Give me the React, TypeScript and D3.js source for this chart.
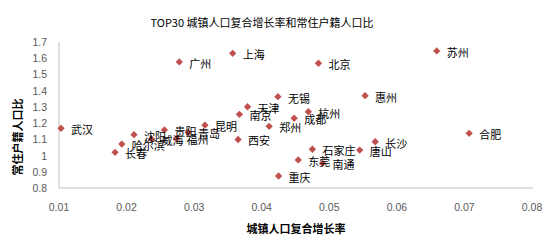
import React from "react";
import * as d3 from "d3";

const cities = ["武汉","长春","哈尔滨","沈阳","威海","贵阳","福州","青岛","昆明","广州","上海","北京","苏州","惠州","无锡","天津","南京","杭州","成都","郑州","西安","石家庄","唐山","长沙","合肥","东莞","南通","重庆"];
const growth = [0.0103,0.0183,0.0193,0.0211,0.0237,0.0256,0.0274,0.0291,0.0316,0.0278,0.0357,0.0484,0.0659,0.0553,0.0424,0.0379,0.0367,0.0469,0.0448,0.0411,0.0365,0.0475,0.0545,0.0568,0.0707,0.0454,0.0490,0.0425];
const ratio = [1.168,1.020,1.071,1.129,1.102,1.158,1.106,1.143,1.187,1.577,1.630,1.569,1.645,1.369,1.363,1.301,1.254,1.270,1.230,1.180,1.099,1.039,1.034,1.085,1.137,0.973,0.952,0.874];
const xTicks = [0.01,0.02,0.03,0.04,0.05,0.06,0.07,0.08];
const yTicks = [0.8,0.9,1,1.1,1.2,1.3,1.4,1.5,1.6,1.7];

const W = 555, H = 240;
const left = 59, right = 532, top = 42, bottom = 188;
const CJK = "'Noto Sans CJK SC', sans-serif";
const NUM = "'Liberation Sans', Arial, sans-serif";

export default function App() {
  const x = d3.scaleLinear().domain([0.01, 0.08]).range([left, right]);
  const y = d3.scaleLinear().domain([0.8, 1.7]).range([bottom, top]);
  const diamond = d3.symbol().type(d3.symbolDiamond2).size(34)() as string;
  return (
    <svg width={W} height={H} style={{ position: "absolute", left: 0, top: 0, background: "#fff" }}>
      <text x={262} y={22} textAnchor="middle" dominantBaseline="central" fontFamily={CJK} fontSize={11} fill="#000">
        TOP30 城镇人口复合增长率和常住户籍人口比
      </text>
      <line x1={left} x2={left} y1={top} y2={bottom} stroke="#bfbfbf" strokeWidth={1} />
      <line x1={left} x2={right + 1} y1={bottom} y2={bottom} stroke="#bfbfbf" strokeWidth={1} />
      {yTicks.map((t) => (
        <text key={"y" + t} x={47} y={y(t)} textAnchor="end" dominantBaseline="central" fontFamily={NUM} fontSize={10.5} fill="#595959">
          {d3.format("")(+t.toFixed(1))}
        </text>
      ))}
      {xTicks.map((t) => (
        <text key={"x" + t} x={x(t)} y={207} textAnchor="middle" dominantBaseline="central" fontFamily={NUM} fontSize={10.5} fill="#595959">
          {t.toFixed(2)}
        </text>
      ))}
      <text x={296} y={228} textAnchor="middle" dominantBaseline="central" fontFamily={CJK} fontSize={11} fontWeight="bold" fill="#000">
        城镇人口复合增长率
      </text>
      <text transform={`translate(17,137) rotate(-90)`} textAnchor="middle" dominantBaseline="central" fontFamily={CJK} fontSize={11} fontWeight="bold" fill="#000">
        常住户籍人口比
      </text>
      {cities.map((c, i) => (
        <g key={c}>
          <path d={diamond} transform={`translate(${x(growth[i])},${y(ratio[i])})`} fill="#c0504d" />
        </g>
      ))}
      {cities.map((c, i) => (
        <text key={"l" + c} x={x(growth[i]) + 10} y={y(ratio[i]) + 1} dominantBaseline="central" fontFamily={CJK} fontSize={11} fill="#000">
          {c}
        </text>
      ))}
    </svg>
  );
}
